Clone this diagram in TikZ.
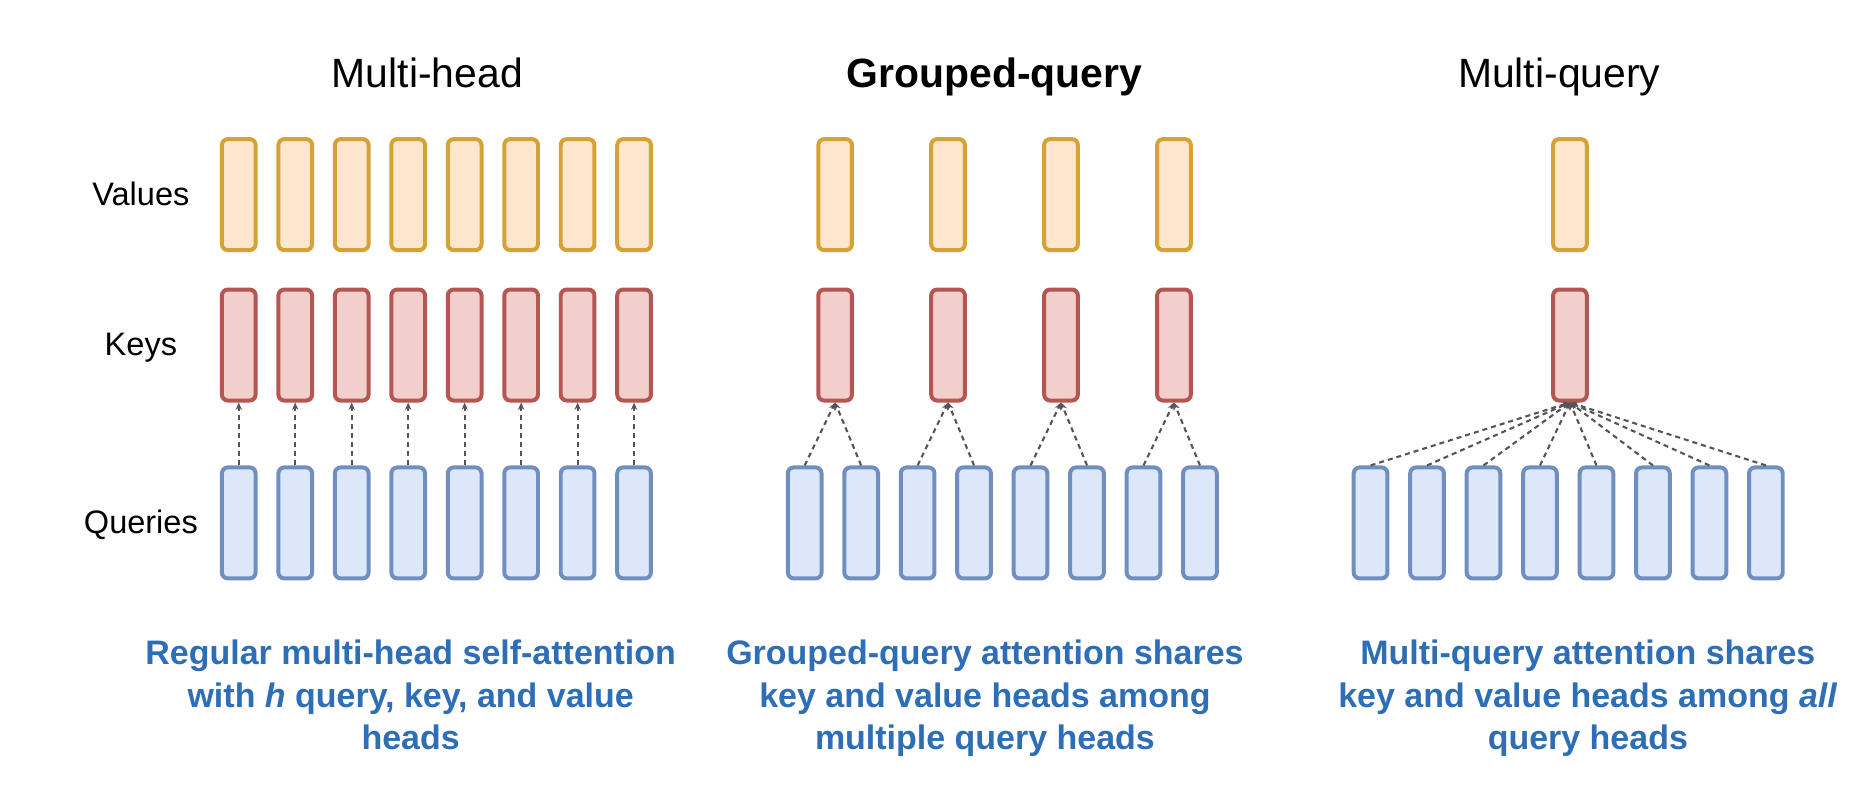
\documentclass[tikz,border=0pt]{standalone}
\usepackage{fontspec}
\setmainfont{Liberation Sans}
\usetikzlibrary{arrows.meta}

\definecolor{valfill}{RGB}{252,230,206}
\definecolor{valdraw}{RGB}{214,162,54}
\definecolor{keyfill}{RGB}{242,206,205}
\definecolor{keydraw}{RGB}{181,86,82}
\definecolor{qryfill}{RGB}{220,232,250}
\definecolor{qrydraw}{RGB}{112,143,192}
\definecolor{capblue}{RGB}{46,110,182}
\definecolor{linkgray}{RGB}{85,85,85}

\tikzset{
  headbox/.style={draw, rounded corners=0.1cm, line width=1.9pt,
    minimum width=0.565cm, minimum height=1.86cm, inner sep=0pt},
  valbox/.style={headbox, draw=valdraw, fill=valfill},
  keybox/.style={headbox, draw=keydraw, fill=keyfill},
  qrybox/.style={headbox, draw=qrydraw, fill=qryfill},
  dashlink/.style={linkgray, line width=1pt, dash pattern=on 2.4pt off 1.9pt,
    -{Stealth[length=3.5pt,width=3pt]}},
  paneltitle/.style={font=\fontsize{19.5}{23}\selectfont, anchor=base},
  rowname/.style={font=\fontsize{15.5}{19}\selectfont, anchor=base},
  blurb/.style={font=\fontsize{16.2}{20.2}\selectfont\bfseries, text=capblue,
    align=center, anchor=north, inner sep=0pt}
}

\begin{document}
\begin{tikzpicture}[x=0.02cm,y=-0.02cm]
\useasboundingbox (0,0) rectangle (1568,673);

% panel titles
\node[paneltitle] (tmh) at (358,73) {Multi-head};
\node[paneltitle] (tgq) at (833,73) {\bfseries Grouped-query};
\node[paneltitle] (tmq) at (1306,73) {Multi-query};

% row names
\node[rowname] (lv) at (118,172) {Values};
\node[rowname] (lk) at (118,298) {Keys};
\node[rowname] (lq) at (118,447) {Queries};

% multi-head: a key and a value for every query
\foreach \i in {1,...,8} {
  \node[valbox] (mv\i) at ({200+47.3*(\i-1)},163) {};
  \node[keybox] (mk\i) at ({200+47.3*(\i-1)},289) {};
  \node[qrybox] (mq\i) at ({200+47.3*(\i-1)},438) {};
  \draw[dashlink] (mq\i.north) -- (mk\i.south);
}

% grouped-query: one key and value per pair
\foreach \j in {1,...,4} {
  \node[valbox] (gv\j) at ({699.5+94.6*(\j-1)},163) {};
  \node[keybox] (gk\j) at ({699.5+94.6*(\j-1)},289) {};
}
\foreach \i in {1,...,8} {
  \pgfmathtruncatemacro{\g}{(\i+1)/2}
  \node[qrybox] (gq\i) at ({674+47.3*(\i-1)},438) {};
  \draw[dashlink] (gq\i.north) -- (gk\g.south);
}

% multi-query: a single key and value
\node[valbox] (qv) at (1315,163) {};
\node[keybox] (qk) at (1315,289) {};
\foreach \i in {1,...,8} {
  \node[qrybox] (qq\i) at ({1148+47.3*(\i-1)},438) {};
  \draw[dashlink] (qq\i.north) -- (qk.south);
}

% captions
\node[blurb] (cmh) at (344,536) {Regular multi-head self-attention\\with \textit{h} query, key, and value\\heads};
\node[blurb] (cgq) at (825,536) {Grouped-query attention shares\\key and value heads among\\multiple query heads};
\node[blurb] (cmq) at (1330,536) {Multi-query attention shares\\key and value heads among \textit{all}\\query heads};
\end{tikzpicture}
\end{document}
